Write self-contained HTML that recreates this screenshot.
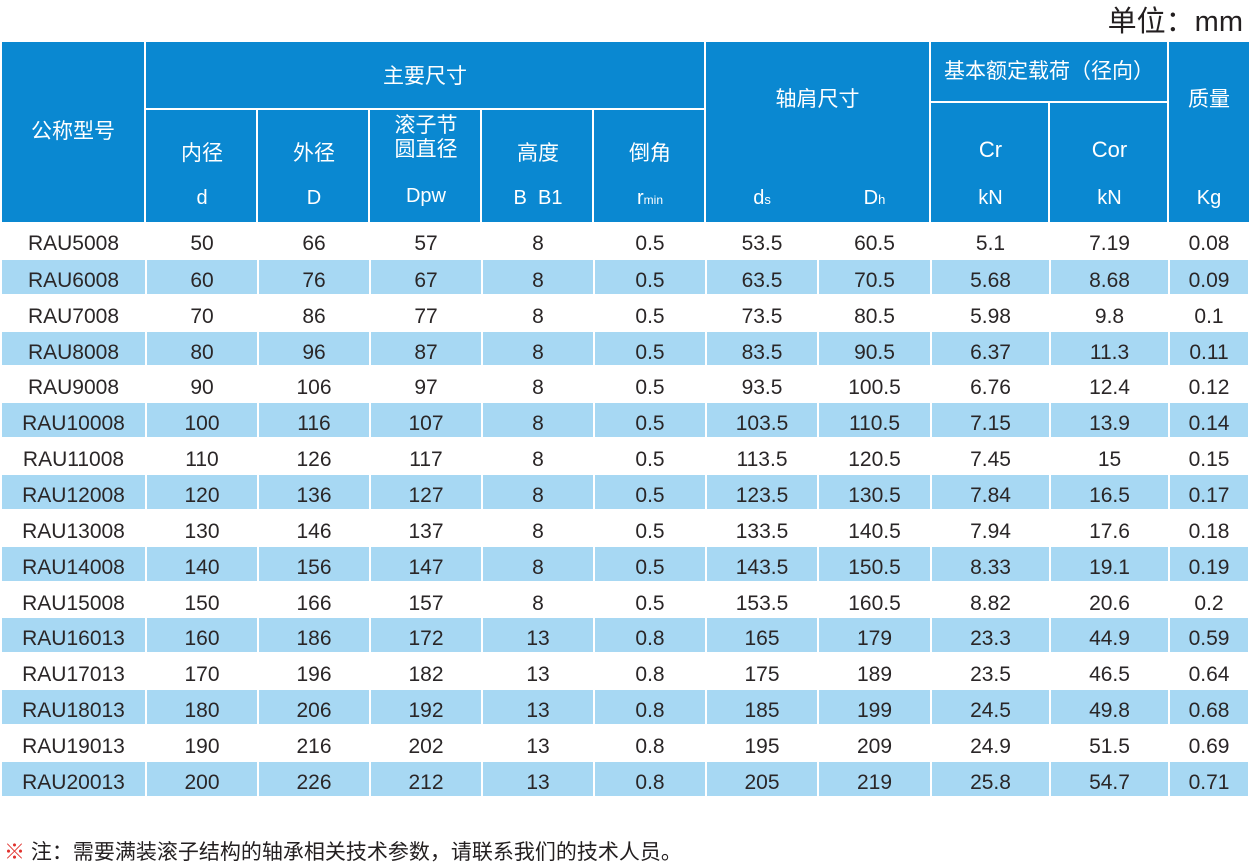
<!DOCTYPE html>
<html><head><meta charset="utf-8">
<style>
body{margin:0;width:1251px;height:866px;background:#fff;position:relative;overflow:hidden;font-family:"Liberation Sans","Noto Sans CJK SC",sans-serif;color:#231f20}
.h{position:absolute;background:#0a88d1;color:#fff;display:flex;align-items:center;justify-content:center;text-align:center;font-size:21px;line-height:1.1}
.s{position:absolute;color:#fff;font-size:20px;text-align:center}
table{position:absolute;left:2px;top:223px;border-collapse:collapse;table-layout:fixed;width:1247px}
td{height:35.86px;padding:8px 0 0 0;text-align:center;font-size:21px;box-sizing:border-box;border-right:2px solid #fff;border-bottom:2px solid #fff;color:#2a2627}
tr:nth-child(even) td{background:#a7d8f3}
</style></head><body>
<div style="position:absolute;right:8px;top:-2px;font-size:29px;color:#231f20">单位：mm</div>
<div class="h" style="left:2px;top:42px;width:142px;height:180px">公称型号</div>
<div class="h" style="left:146px;top:42px;width:558px;height:66px;padding-top:4px;box-sizing:border-box">主要尺寸</div>
<div class="h" style="left:146px;top:110px;width:110px;height:112px"></div>
<div class="h" style="left:258px;top:110px;width:110px;height:112px"></div>
<div class="h" style="left:370px;top:110px;width:110px;height:112px"></div>
<div class="h" style="left:482px;top:110px;width:110px;height:112px"></div>
<div class="h" style="left:594px;top:110px;width:110px;height:112px"></div>
<div class="h" style="left:706px;top:42px;width:223px;height:180px;align-items:flex-start;padding-top:46px;box-sizing:border-box">轴肩尺寸</div>
<div class="h" style="left:931px;top:42px;width:236px;height:59px">基本额定载荷（径向）</div>
<div class="h" style="left:931px;top:103px;width:117px;height:119px"></div>
<div class="h" style="left:1050px;top:103px;width:117px;height:119px"></div>
<div class="h" style="left:1169px;top:42px;width:80px;height:180px;align-items:flex-start;padding-top:46px;box-sizing:border-box">质量</div>
<div class="s" style="left:146px;top:137px;width:112px;font-size:21px">内径</div>
<div class="s" style="left:258px;top:137px;width:112px;font-size:21px">外径</div>
<div class="s" style="left:370px;top:114px;width:112px;font-size:21px;line-height:24px">滚子节<br>圆直径</div>
<div class="s" style="left:482px;top:137px;width:112px;font-size:21px">高度</div>
<div class="s" style="left:594px;top:137px;width:112px;font-size:21px">倒角</div>
<div class="s" style="left:931px;top:137px;width:119px;font-size:22px">Cr</div>
<div class="s" style="left:1050px;top:137px;width:119px;font-size:22px">Cor</div>
<div class="s" style="left:146px;top:187px;width:112px">d</div>
<div class="s" style="left:258px;top:187px;width:112px">D</div>
<div class="s" style="left:370px;top:185px;width:112px">Dpw</div>
<div class="s" style="left:482px;top:187px;width:112px">B&nbsp;&nbsp;B1</div>
<div class="s" style="left:594px;top:187px;width:112px">r<span style="font-size:12px">min</span></div>
<div class="s" style="left:706px;top:187px;width:112px">d<span style="font-size:13px">s</span></div>
<div class="s" style="left:818px;top:187px;width:113px">D<span style="font-size:13px">h</span></div>
<div class="s" style="left:931px;top:187px;width:119px">kN</div>
<div class="s" style="left:1050px;top:187px;width:119px">kN</div>
<div class="s" style="left:1169px;top:187px;width:80px">Kg</div>
<table>
<colgroup><col style="width:144px"><col style="width:112px"><col style="width:112px"><col style="width:112px"><col style="width:112px"><col style="width:112px"><col style="width:112px"><col style="width:113px"><col style="width:119px"><col style="width:119px"><col style="width:80px"></colgroup>
<tr><td>RAU5008</td><td>50</td><td>66</td><td>57</td><td>8</td><td>0.5</td><td>53.5</td><td>60.5</td><td>5.1</td><td>7.19</td><td>0.08</td></tr>
<tr><td>RAU6008</td><td>60</td><td>76</td><td>67</td><td>8</td><td>0.5</td><td>63.5</td><td>70.5</td><td>5.68</td><td>8.68</td><td>0.09</td></tr>
<tr><td>RAU7008</td><td>70</td><td>86</td><td>77</td><td>8</td><td>0.5</td><td>73.5</td><td>80.5</td><td>5.98</td><td>9.8</td><td>0.1</td></tr>
<tr><td>RAU8008</td><td>80</td><td>96</td><td>87</td><td>8</td><td>0.5</td><td>83.5</td><td>90.5</td><td>6.37</td><td>11.3</td><td>0.11</td></tr>
<tr><td>RAU9008</td><td>90</td><td>106</td><td>97</td><td>8</td><td>0.5</td><td>93.5</td><td>100.5</td><td>6.76</td><td>12.4</td><td>0.12</td></tr>
<tr><td>RAU10008</td><td>100</td><td>116</td><td>107</td><td>8</td><td>0.5</td><td>103.5</td><td>110.5</td><td>7.15</td><td>13.9</td><td>0.14</td></tr>
<tr><td>RAU11008</td><td>110</td><td>126</td><td>117</td><td>8</td><td>0.5</td><td>113.5</td><td>120.5</td><td>7.45</td><td>15</td><td>0.15</td></tr>
<tr><td>RAU12008</td><td>120</td><td>136</td><td>127</td><td>8</td><td>0.5</td><td>123.5</td><td>130.5</td><td>7.84</td><td>16.5</td><td>0.17</td></tr>
<tr><td>RAU13008</td><td>130</td><td>146</td><td>137</td><td>8</td><td>0.5</td><td>133.5</td><td>140.5</td><td>7.94</td><td>17.6</td><td>0.18</td></tr>
<tr><td>RAU14008</td><td>140</td><td>156</td><td>147</td><td>8</td><td>0.5</td><td>143.5</td><td>150.5</td><td>8.33</td><td>19.1</td><td>0.19</td></tr>
<tr><td>RAU15008</td><td>150</td><td>166</td><td>157</td><td>8</td><td>0.5</td><td>153.5</td><td>160.5</td><td>8.82</td><td>20.6</td><td>0.2</td></tr>
<tr><td>RAU16013</td><td>160</td><td>186</td><td>172</td><td>13</td><td>0.8</td><td>165</td><td>179</td><td>23.3</td><td>44.9</td><td>0.59</td></tr>
<tr><td>RAU17013</td><td>170</td><td>196</td><td>182</td><td>13</td><td>0.8</td><td>175</td><td>189</td><td>23.5</td><td>46.5</td><td>0.64</td></tr>
<tr><td>RAU18013</td><td>180</td><td>206</td><td>192</td><td>13</td><td>0.8</td><td>185</td><td>199</td><td>24.5</td><td>49.8</td><td>0.68</td></tr>
<tr><td>RAU19013</td><td>190</td><td>216</td><td>202</td><td>13</td><td>0.8</td><td>195</td><td>209</td><td>24.9</td><td>51.5</td><td>0.69</td></tr>
<tr><td>RAU20013</td><td>200</td><td>226</td><td>212</td><td>13</td><td>0.8</td><td>205</td><td>219</td><td>25.8</td><td>54.7</td><td>0.71</td></tr>
</table>
<div style="position:absolute;left:4px;top:836px;font-size:21px;color:#231f20;white-space:nowrap"><span style="color:#e0312c">※</span> 注：需要满装滚子结构的轴承相关技术参数，请联系我们的技术人员。</div>
</body></html>
